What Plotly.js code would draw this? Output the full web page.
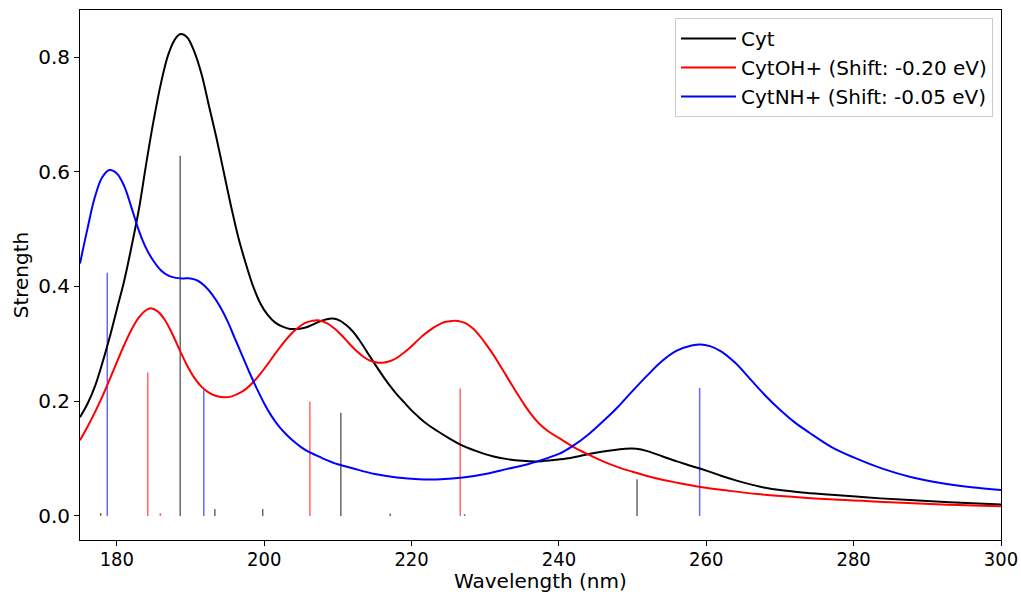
<!DOCTYPE html>
<html><head><meta charset="utf-8">
<script src="https://cdn.plot.ly/plotly-3.0.1.min.js"></script>
<style>html,body{margin:0;padding:0;background:#fff}#chart{width:1021px;height:594px}</style>
</head><body><div id="chart"></div>
<script>
// Broadened spectra
const cytX = [175,176,177,178,179,180,181,182,183,184,185,186,187,188,188.7,189.5,190.5,191.5,192.5,193.5,194.5,195.5,196.5,197.5,198.5,199.5,200.5,201.5,202.5,203.5,204.5,205.5,206.5,207.5,208.5,209.3,210.2,211,212,213,214,215,216,217,218,219,220,221,222,223.5,225,227,229,231,233,235,237,239,241,243,245,247,249,250.5,252,254,256,258,260,262,264,266,268,270,273,277,282,287,293,300];
const cytY = [0.172,0.195,0.225,0.265,0.31,0.36,0.41,0.47,0.535,0.615,0.69,0.755,0.805,0.833,0.84,0.835,0.81,0.77,0.715,0.66,0.6,0.54,0.485,0.44,0.4,0.37,0.35,0.337,0.33,0.326,0.326,0.328,0.333,0.339,0.343,0.344,0.341,0.334,0.322,0.305,0.285,0.265,0.246,0.228,0.212,0.198,0.184,0.172,0.161,0.148,0.136,0.122,0.112,0.104,0.099,0.096,0.095,0.097,0.1,0.105,0.11,0.114,0.117,0.117,0.113,0.104,0.095,0.087,0.079,0.07,0.062,0.055,0.049,0.045,0.041,0.037,0.032,0.028,0.024,0.02];

const ohX = [175,176,177,178,179,180,181,182,183,184,184.6,185.5,186.5,187.5,188.5,189.5,190.5,191.5,192.5,193.5,194.5,195.5,196.5,197.5,198.5,199.5,200.5,201.5,202.5,203.5,204.5,205.5,206.5,207.3,208.5,209.5,210.5,211.5,212.5,213.5,214.5,215.5,216.5,217.5,218.5,219.5,220.5,221.5,222.5,223.5,224.5,225.5,226.3,227.3,228.3,229.3,230.3,231.3,232.3,233.3,234.3,235.3,236.3,237.3,238.5,240,242,244,246,248,250,253,256,259,263,267,272,278,285,292,300];
const ohY = [0.132,0.155,0.18,0.207,0.237,0.268,0.298,0.325,0.346,0.359,0.362,0.357,0.342,0.318,0.29,0.263,0.241,0.225,0.215,0.209,0.207,0.208,0.213,0.221,0.233,0.248,0.265,0.283,0.3,0.315,0.327,0.336,0.34,0.341,0.336,0.327,0.315,0.301,0.288,0.277,0.27,0.267,0.268,0.272,0.28,0.29,0.302,0.314,0.324,0.332,0.338,0.34,0.34,0.336,0.327,0.313,0.296,0.277,0.256,0.235,0.214,0.194,0.176,0.161,0.148,0.136,0.12,0.107,0.095,0.085,0.077,0.066,0.058,0.051,0.044,0.038,0.033,0.028,0.024,0.02,0.017];

const nhX = [175,176,177,178,179,180,181,182,183,184,185,186,187,188,189,190,191,192,193,194,195,196,197,198,199,200,201,202,203,204,205,206,207,208,210,212,215,218,221,224,227,230,233,236,238,240,242,244,246,248,250,252,254,256,258,259.2,260.5,262,264,266,268,270,272,274,277,280,284,288,292,296,300];
const nhY = [0.44,0.5,0.555,0.59,0.603,0.597,0.575,0.537,0.497,0.466,0.444,0.428,0.419,0.415,0.414,0.414,0.41,0.4,0.385,0.365,0.34,0.31,0.28,0.25,0.222,0.196,0.174,0.156,0.142,0.13,0.12,0.112,0.106,0.1,0.09,0.083,0.073,0.067,0.064,0.064,0.067,0.073,0.082,0.091,0.099,0.108,0.123,0.142,0.165,0.19,0.218,0.245,0.27,0.288,0.297,0.299,0.296,0.287,0.266,0.238,0.21,0.185,0.163,0.145,0.12,0.102,0.082,0.067,0.057,0.05,0.045];

// Stick transitions
const cytStickX = [177.8,188.6,193.3,199.8,210.4,217.1,227.2,250.6];
const cytStickH = [0.005,0.628,0.012,0.012,0.18,0.004,0.003,0.064];
const ohStickX = [184.2,185.9,206.2,226.6];
const ohStickH = [0.25,0.005,0.199,0.222];
const nhStickX = [178.7,191.8,259.1];
const nhStickH = [0.424,0.219,0.223];

const names = ['Cyt','CytOH+ (Shift: -0.20 eV)','CytNH+ (Shift: -0.05 eV)'];
const colors = ['#000000','#ff0000','#0000ff'];
const stickColors = ['rgba(0,0,0,0.6)','rgba(255,0,0,0.6)','rgba(0,0,255,0.6)'];

function sticks(xs, hs) {
  const x = [], y = [];
  xs.forEach((v, i) => { x.push(v, v, null); y.push(0, hs[i], null); });
  return {x, y};
}

const curves = [[cytX,cytY],[ohX,ohY],[nhX,nhY]];
const stickSets = [[cytStickX,cytStickH],[ohStickX,ohStickH],[nhStickX,nhStickH]];
const data = [];
for (let i = 0; i < 3; i++) {
  const s = sticks(stickSets[i][0], stickSets[i][1]);
  data.push({x: s.x, y: s.y, mode: 'lines', line: {color: stickColors[i], width: 1.5},
             showlegend: false, hoverinfo: 'skip', legendgroup: 'g' + i});
}
for (let i = 0; i < 3; i++) {
  data.push({x: curves[i][0], y: curves[i][1], mode: 'lines', name: names[i],
             line: {color: colors[i], width: 2, shape: 'spline', smoothing: 1},
             legendgroup: 'g' + i});
}

const font = {family: 'DejaVu Sans, sans-serif', size: 20, color: '#000'};
const xtickFont = {family: 'DejaVu Sans Condensed, DejaVu Sans, sans-serif', size: 20, color: '#000'};
const layout = {
  width: 1021, height: 594,
  margin: {l: 80, r: 20, t: 10, b: 54},
  paper_bgcolor: '#fff', plot_bgcolor: '#fff',
  font: font,
  showlegend: true,
  legend: {x: 0.9913, y: 0.985, xanchor: 'right', yanchor: 'top',
           bgcolor: 'rgba(255,255,255,0.8)', bordercolor: '#cccccc', borderwidth: 1,
           font: font, traceorder: 'grouped', tracegroupgap: 0, itemwidth: 55},
  xaxis: {range: [175, 300], tickvals: [180,200,220,240,260,280,300],
          ticks: 'outside', ticklen: 5, tickcolor: '#000', showline: true, linecolor: '#000',
          linewidth: 1, mirror: true, showgrid: false, zeroline: false,
          tickfont: xtickFont, automargin: false, ticklabelstandoff: -4},
  yaxis: {range: [-0.042, 0.882], tickvals: [0,0.2,0.4,0.6,0.8], tickformat: '.1f',
          ticks: 'outside', ticklen: 5, tickcolor: '#000', showline: true, linecolor: '#000',
          linewidth: 1, mirror: true, showgrid: false, zeroline: false,
          tickfont: font, automargin: false,
          title: {text: 'Strength', font: font, standoff: 4}},
  annotations: [{text: 'Wavelength (nm)', xref: 'paper', yref: 'paper', x: 0.5, y: -0.078,
                 xanchor: 'center', yanchor: 'middle', showarrow: false, font: font}]
};
Plotly.newPlot('chart', data, layout, {displayModeBar: false, staticPlot: true});
</script>
</body></html>
